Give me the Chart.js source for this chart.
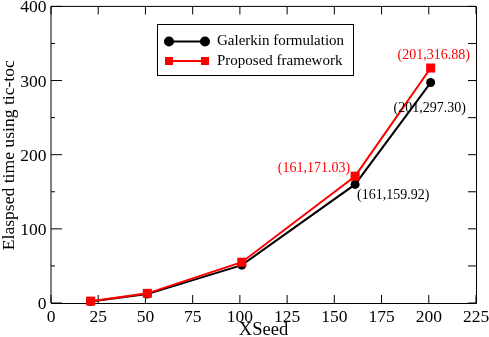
<!DOCTYPE html>
<html><head><meta charset="utf-8">
<script src="https://cdn.jsdelivr.net/npm/chart.js@4"></script>
<style>html,body{margin:0;padding:0;background:#fff}#wrap{width:489px;height:337px}</style>
</head><body><div id="wrap"><canvas id="c" width="489" height="337"></canvas></div>
<script>
// ---- data ----
const xSeed = [21, 51, 101, 161, 201];
const galerkin = [2, 12, 51, 159.92, 297.30];
const proposed = [2.5, 13, 55, 171.03, 316.88];
const seriesNames = ['Galerkin formulation', 'Proposed framework'];
const xTickValues = [0, 25, 50, 75, 100, 125, 150, 175, 200, 225];
const yTickValues = [0, 100, 200, 300, 400];
const xTitle = 'XSeed';
const yTitle = 'Elaspsed time using tic-toc';
// annotated points: [series index, point index]
const annotated = [[1, 3], [0, 3], [1, 4], [0, 4]];

// ---- styles ----
const FONT = '"Liberation Serif", "Times New Roman", serif';
const labelStyle = [
  {dx: -5, dy: -8, align: 'right'},
  {dx: 2, dy: 11, align: 'left'},
  {dx: 3, dy: -13, align: 'center'},
  {dx: -1, dy: 26, align: 'center'}
];
const colors = ['#000000', '#ff0000'];

function fmt(v){ return v.toFixed(2); }

const axesPlugin = {
  id: 'axesFrame',
  beforeDatasetsDraw(chart) {
    const {ctx, chartArea: a, scales: {x, y}} = chart;
    ctx.save();
    ctx.strokeStyle = '#000';
    ctx.lineWidth = 1;
    ctx.beginPath();
    ctx.moveTo(a.left, a.bottom); ctx.lineTo(a.left, a.top); ctx.lineTo(a.right, a.top);
    ctx.stroke();
    ctx.beginPath();
    ctx.moveTo(a.left, a.bottom + 0.5); ctx.lineTo(a.right + 0.5, a.bottom + 0.5); ctx.lineTo(a.right + 0.5, a.top);
    ctx.stroke();
    ctx.beginPath();
    for (let v = 0; v <= 225; v += 25) {
      const px = x.getPixelForValue(v);
      ctx.moveTo(px, a.bottom); ctx.lineTo(px, a.bottom - 8);
      ctx.moveTo(px, a.top); ctx.lineTo(px, a.top + 8);
    }
    for (let v = 0; v <= 400; v += 50) {
      const py = y.getPixelForValue(v);
      const len = (v % 100 === 0) ? 11 : 4;
      ctx.moveTo(a.left, py); ctx.lineTo(a.left + len, py);
      ctx.moveTo(a.right, py); ctx.lineTo(a.right - 8, py);
    }
    ctx.stroke();

    // tick labels
    ctx.fillStyle = '#000';
    ctx.font = '17.5px ' + FONT;
    ctx.textBaseline = 'alphabetic';
    ctx.textAlign = 'center';
    xTickValues.forEach(v => ctx.fillText(String(v), x.getPixelForValue(v), a.bottom + 18.5));
    ctx.textAlign = 'right';
    yTickValues.forEach(v => ctx.fillText(String(v), a.left - 4.5, y.getPixelForValue(v) + 6));

    // titles
    ctx.font = '18.5px ' + FONT;
    ctx.textAlign = 'center';
    ctx.fillText(xTitle, (a.left + a.right) / 2, 335);
    ctx.save();
    ctx.translate(13.5, (a.top + a.bottom) / 2 + 0.5);
    ctx.rotate(-Math.PI / 2);
    ctx.font = '17.6px ' + FONT;
    ctx.fillText(yTitle, 0, 0);
    ctx.restore();
    ctx.restore();
  },
  afterDatasetsDraw(chart) {
    const {ctx, scales: {x, y}} = chart;
    ctx.save();
    ctx.font = '14px ' + FONT;
    ctx.textBaseline = 'middle';
    annotated.forEach(([s, i], k) => {
      const st = labelStyle[k];
      const vals = s === 0 ? galerkin : proposed;
      const px = x.getPixelForValue(xSeed[i]);
      const py = y.getPixelForValue(vals[i]);
      ctx.fillStyle = colors[s];
      ctx.textAlign = st.align;
      ctx.fillText('(' + xSeed[i] + ',' + fmt(vals[i]) + ')', px + st.dx, py + st.dy);
    });

    // legend
    const lx = 157.5, ly = 24.5, lw = 196, lh = 51;
    ctx.fillStyle = '#fff';
    ctx.fillRect(lx, ly, lw, lh);
    ctx.strokeStyle = '#000';
    ctx.lineWidth = 1;
    ctx.strokeRect(lx, ly, lw, lh);
    const rows = [41.5, 61];
    rows.forEach((ry, s) => {
      ctx.strokeStyle = colors[s];
      ctx.fillStyle = colors[s];
      ctx.lineWidth = 2;
      ctx.beginPath(); ctx.moveTo(169, ry); ctx.lineTo(205, ry); ctx.stroke();
      [169, 205].forEach(mx => {
        if (s === 0) { ctx.beginPath(); ctx.arc(mx, ry, 5, 0, Math.PI * 2); ctx.fill(); }
        else { ctx.fillRect(mx - 4, ry - 4, 8, 8); }
      });
      ctx.fillStyle = '#000';
      ctx.font = '15px ' + FONT;
      ctx.textAlign = 'left';
      ctx.fillText(seriesNames[s], 217, ry);
    });
    ctx.restore();
  }
};

new Chart(document.getElementById('c'), {
  type: 'line',
  data: {
    datasets: [
      {label: seriesNames[0], data: xSeed.map((v, i) => ({x: v, y: galerkin[i]})),
       borderColor: colors[0], backgroundColor: colors[0], borderWidth: 2, clip: false,
       pointStyle: 'circle', pointRadius: 4.5, pointBorderWidth: 0, order: 2, tension: 0},
      {label: seriesNames[1], data: xSeed.map((v, i) => ({x: v, y: proposed[i]})),
       borderColor: colors[1], backgroundColor: colors[1], borderWidth: 2, clip: false,
       pointStyle: 'rect', pointRadius: 6.4, pointBorderWidth: 0, order: 1, tension: 0}
    ]
  },
  options: {
    responsive: false, animation: false, devicePixelRatio: 1,
    layout: {padding: {left: 51, right: 13, top: 6, bottom: 34}},
    plugins: {legend: {display: false}, tooltip: {enabled: false}},
    scales: {
      x: {type: 'linear', min: 0, max: 225, display: false},
      y: {type: 'linear', min: 0, max: 400, display: false}
    }
  },
  plugins: [axesPlugin]
});
</script></body></html>
